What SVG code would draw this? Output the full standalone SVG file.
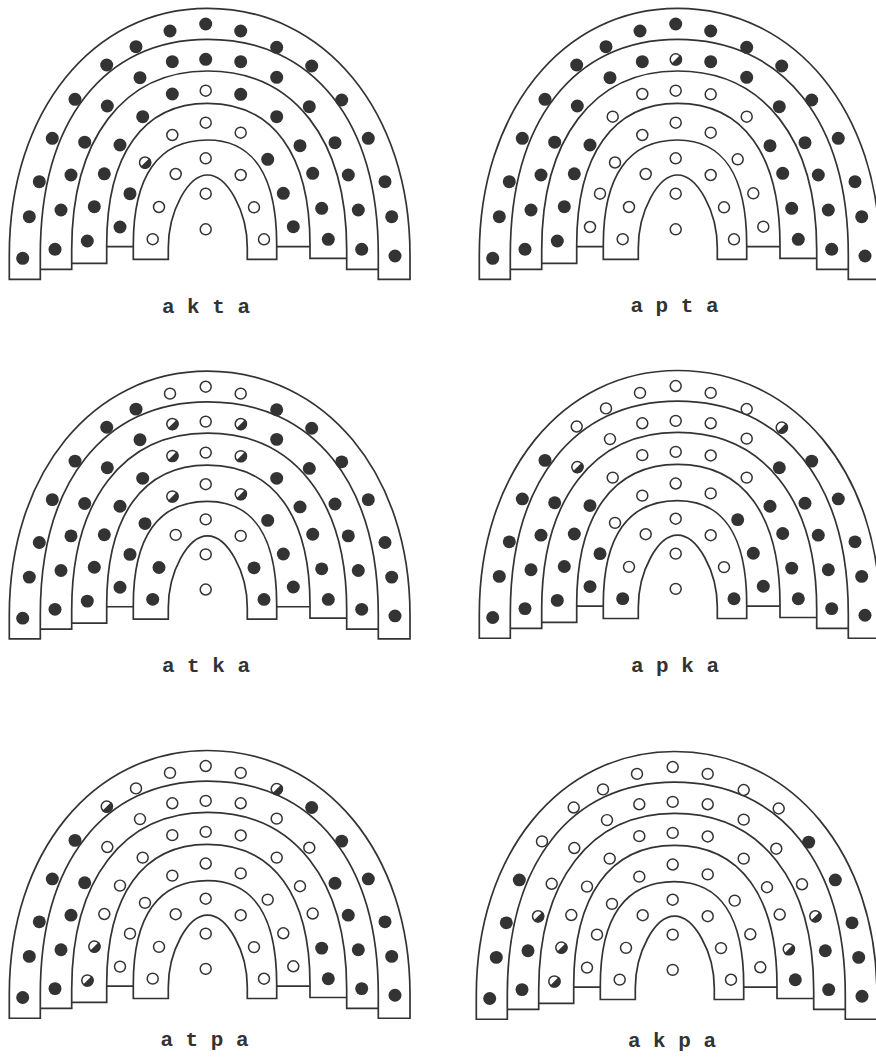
<svg xmlns="http://www.w3.org/2000/svg" width="876" height="1062" viewBox="0 0 876 1062">
<style>
.ln{fill:none;stroke:#333;stroke-width:1.7;stroke-linecap:square;stroke-linejoin:miter}
.lb{font-family:"Liberation Mono","DejaVu Sans Mono",monospace;font-weight:bold;font-size:21px;fill:#333;text-anchor:middle}
</style>
<defs>
<path id="frame" class="ln" d="M9.3,279.3 L9.3,255 C9.3,111.9 92.5,8.3 207.5,8.3 C325,8.3 410,111.9 410,255 L410,279.3 M40.3,279.3 L40.3,255 C40.3,121.3 103.8,39.3 207.5,39.3 C313.4,39.3 378.3,121.3 378.3,255 L378.3,279.3 M71.7,269.3 L71.7,250 C71.7,139 123.3,71 207.5,71 C293.8,71 346.7,139 346.7,250 L346.7,269.3 M106.7,263.3 L106.7,245 C106.7,154.3 143,103.3 207.5,103.3 C273.1,103.3 310,154.3 310,245 L310,258.3 M133.3,259.3 L133.3,245 C133.3,175.7 158.5,140 207.5,140 C253.2,140 276.7,175.7 276.7,245 L276.7,259.3 M168.3,259.3 L168.3,248 C168.3,211.5 187.9,175 207.5,175 C227.4,175 247.3,211.5 247.3,248 L247.3,259.3 M9.3,279.3 H40.3 M378.3,279.3 H410 M40.3,269.3 H71.7 M346.7,269.3 H378.3 M71.7,263.3 H106.7 M310,258.3 H346.7 M106.7,246.7 H133.3 M276.7,246.7 H310 M133.3,259.3 H168.3 M247.3,259.3 H276.7"/>
<circle id="f" r="6.5" fill="#333"/>
<circle id="o" r="5.5" fill="#fff" stroke="#333" stroke-width="1.5"/>
<g id="h"><circle r="5.5" fill="#fff" stroke="#333" stroke-width="1.5"/><path d="M4.6,-4.6 A6.5,6.5 0 0 1 -4.6,4.6 Z" fill="#333"/></g>
<g id="in"><use href="#o" x="205.7" y="193.7"/><use href="#o" x="205.7" y="229.3"/></g>
<g id="b5o"><use href="#o" x="152.7" y="239.2"/><use href="#o" x="159" y="207"/><use href="#o" x="175.7" y="174"/><use href="#o" x="205.7" y="158.3"/><use href="#o" x="240.7" y="175"/><use href="#o" x="254" y="207.3"/><use href="#o" x="264" y="239.3"/></g>
<g id="b4o"><use href="#o" x="120" y="227"/><use href="#o" x="130" y="193.7"/><use href="#o" x="145" y="162.5"/><use href="#o" x="172.3" y="135"/><use href="#o" x="205.7" y="122.7"/><use href="#o" x="240.7" y="132.7"/><use href="#o" x="267.7" y="159.3"/><use href="#o" x="283.3" y="193.3"/><use href="#o" x="293.3" y="226.7"/></g>
<g id="b1f"><use href="#f" x="22.7" y="258.3"/><use href="#f" x="29.3" y="216.7"/><use href="#f" x="39.3" y="181.7"/><use href="#f" x="52.3" y="138.3"/><use href="#f" x="75" y="99.3"/><use href="#f" x="106.7" y="65"/><use href="#f" x="136" y="46.7"/><use href="#f" x="170" y="31"/><use href="#f" x="205.7" y="24"/><use href="#f" x="240.7" y="31"/><use href="#f" x="276.7" y="47.3"/><use href="#f" x="311.7" y="66"/><use href="#f" x="341.7" y="100"/><use href="#f" x="368.3" y="138.3"/><use href="#f" x="385" y="181.7"/><use href="#f" x="391.7" y="216.7"/><use href="#f" x="395" y="256"/></g>
</defs>
<g id="connectors"/>

<g id="node-akta">
<g>
<use href="#frame"/>
<use href="#b1f"/>
<use href="#f" x="55" y="249.3"/><use href="#f" x="61" y="210"/><use href="#f" x="71" y="175"/><use href="#f" x="84.7" y="142.2"/><use href="#f" x="107.3" y="106"/><use href="#f" x="140" y="77.7"/><use href="#f" x="172.3" y="61.7"/><use href="#f" x="205.7" y="59.3"/><use href="#f" x="240.7" y="61.7"/><use href="#f" x="276.7" y="77.3"/><use href="#f" x="309.3" y="106.7"/><use href="#f" x="335" y="142.7"/><use href="#f" x="348.3" y="175"/><use href="#f" x="358.3" y="210"/><use href="#f" x="361.7" y="249.3"/>
<use href="#f" x="87.3" y="241"/><use href="#f" x="94.3" y="206.7"/><use href="#f" x="104.3" y="173.8"/><use href="#f" x="120" y="145"/><use href="#f" x="142.7" y="116.7"/><use href="#f" x="172.3" y="94"/><use href="#o" x="205.7" y="90.7"/><use href="#f" x="240.7" y="94.3"/><use href="#f" x="276.7" y="116.7"/><use href="#f" x="300" y="145.7"/><use href="#f" x="312.7" y="173.3"/><use href="#f" x="321.7" y="208.3"/><use href="#f" x="328.3" y="239.3"/>
<use href="#f" x="120" y="227"/><use href="#f" x="130" y="193.7"/><use href="#h" x="145" y="162.5"/><use href="#o" x="172.3" y="135"/><use href="#o" x="205.7" y="122.7"/><use href="#o" x="240.7" y="132.7"/><use href="#f" x="267.7" y="159.3"/><use href="#f" x="283.3" y="193.3"/><use href="#f" x="293.3" y="226.7"/>
<use href="#b5o"/>
<use href="#in"/>
</g>
<text class="lb" x="206" y="313">a k t a</text>
</g>

<g id="node-apta">
<g transform="translate(470,0)">
<use href="#frame"/>
<use href="#b1f"/>
<use href="#f" x="55" y="249.3"/><use href="#f" x="61" y="210"/><use href="#f" x="71" y="175"/><use href="#f" x="84.7" y="142.2"/><use href="#f" x="107.3" y="106"/><use href="#f" x="140" y="77.7"/><use href="#f" x="172.3" y="61.7"/><use href="#h" x="205.7" y="59.3"/><use href="#f" x="240.7" y="61.7"/><use href="#f" x="276.7" y="77.3"/><use href="#f" x="309.3" y="106.7"/><use href="#f" x="335" y="142.7"/><use href="#f" x="348.3" y="175"/><use href="#f" x="358.3" y="210"/><use href="#f" x="361.7" y="249.3"/>
<use href="#f" x="87.3" y="241"/><use href="#f" x="94.3" y="206.7"/><use href="#f" x="104.3" y="173.8"/><use href="#f" x="120" y="145"/><use href="#o" x="142.7" y="116.7"/><use href="#o" x="172.3" y="94"/><use href="#o" x="205.7" y="90.7"/><use href="#o" x="240.7" y="94.3"/><use href="#o" x="276.7" y="116.7"/><use href="#f" x="300" y="145.7"/><use href="#f" x="312.7" y="173.3"/><use href="#f" x="321.7" y="208.3"/><use href="#f" x="328.3" y="239.3"/>
<use href="#b4o"/>
<use href="#b5o"/>
<use href="#in"/>
</g>
<text class="lb" x="674.5" y="312">a p t a</text>
</g>

<g id="node-atka">
<g transform="translate(0,363) scale(1,0.988)">
<use href="#frame"/>
<use href="#f" x="22.7" y="258.3"/><use href="#f" x="29.3" y="216.7"/><use href="#f" x="39.3" y="181.7"/><use href="#f" x="52.3" y="138.3"/><use href="#f" x="75" y="99.3"/><use href="#f" x="106.7" y="65"/><use href="#f" x="136" y="46.7"/><use href="#o" x="170" y="31"/><use href="#o" x="205.7" y="24"/><use href="#o" x="240.7" y="31"/><use href="#f" x="276.7" y="47.3"/><use href="#f" x="311.7" y="66"/><use href="#f" x="341.7" y="100"/><use href="#f" x="368.3" y="138.3"/><use href="#f" x="385" y="181.7"/><use href="#f" x="391.7" y="216.7"/><use href="#f" x="395" y="256"/>
<use href="#f" x="55" y="249.3"/><use href="#f" x="61" y="210"/><use href="#f" x="71" y="175"/><use href="#f" x="84.7" y="142.2"/><use href="#f" x="107.3" y="106"/><use href="#f" x="140" y="77.7"/><use href="#h" x="172.3" y="61.7"/><use href="#o" x="205.7" y="59.3"/><use href="#h" x="240.7" y="61.7"/><use href="#f" x="276.7" y="77.3"/><use href="#f" x="309.3" y="106.7"/><use href="#f" x="335" y="142.7"/><use href="#f" x="348.3" y="175"/><use href="#f" x="358.3" y="210"/><use href="#f" x="361.7" y="249.3"/>
<use href="#f" x="87.3" y="241"/><use href="#f" x="94.3" y="206.7"/><use href="#f" x="104.3" y="173.8"/><use href="#f" x="120" y="145"/><use href="#f" x="142.7" y="116.7"/><use href="#h" x="172.3" y="94"/><use href="#o" x="205.7" y="90.7"/><use href="#h" x="240.7" y="94.3"/><use href="#f" x="276.7" y="116.7"/><use href="#f" x="300" y="145.7"/><use href="#f" x="312.7" y="173.3"/><use href="#f" x="321.7" y="208.3"/><use href="#f" x="328.3" y="239.3"/>
<use href="#f" x="120" y="227"/><use href="#f" x="130" y="193.7"/><use href="#f" x="145" y="162.5"/><use href="#h" x="172.3" y="135"/><use href="#o" x="205.7" y="122.7"/><use href="#h" x="240.7" y="132.7"/><use href="#f" x="267.7" y="159.3"/><use href="#f" x="283.3" y="193.3"/><use href="#f" x="293.3" y="226.7"/>
<use href="#f" x="152.7" y="239.2"/><use href="#f" x="159" y="207"/><use href="#o" x="175.7" y="174"/><use href="#o" x="205.7" y="158.3"/><use href="#o" x="240.7" y="175"/><use href="#f" x="254" y="207.3"/><use href="#f" x="264" y="239.3"/>
<use href="#in"/>
</g>
<text class="lb" x="206" y="672">a t k a</text>
</g>

<g id="node-apka">
<g transform="translate(470,362.3) scale(1,0.988)">
<use href="#frame"/>
<use href="#f" x="22.7" y="258.3"/><use href="#f" x="29.3" y="216.7"/><use href="#f" x="39.3" y="181.7"/><use href="#f" x="52.3" y="138.3"/><use href="#f" x="75" y="99.3"/><use href="#o" x="106.7" y="65"/><use href="#o" x="136" y="46.7"/><use href="#o" x="170" y="31"/><use href="#o" x="205.7" y="24"/><use href="#o" x="240.7" y="31"/><use href="#o" x="276.7" y="47.3"/><use href="#h" x="311.7" y="66"/><use href="#f" x="341.7" y="100"/><use href="#f" x="368.3" y="138.3"/><use href="#f" x="385" y="181.7"/><use href="#f" x="391.7" y="216.7"/><use href="#f" x="395" y="256"/>
<use href="#f" x="55" y="249.3"/><use href="#f" x="61" y="210"/><use href="#f" x="71" y="175"/><use href="#f" x="84.7" y="142.2"/><use href="#h" x="107.3" y="106"/><use href="#o" x="140" y="77.7"/><use href="#o" x="172.3" y="61.7"/><use href="#o" x="205.7" y="59.3"/><use href="#o" x="240.7" y="61.7"/><use href="#o" x="276.7" y="77.3"/><use href="#f" x="309.3" y="106.7"/><use href="#f" x="335" y="142.7"/><use href="#f" x="348.3" y="175"/><use href="#f" x="358.3" y="210"/><use href="#f" x="361.7" y="249.3"/>
<use href="#f" x="87.3" y="241"/><use href="#f" x="94.3" y="206.7"/><use href="#f" x="104.3" y="173.8"/><use href="#f" x="120" y="145"/><use href="#o" x="142.7" y="116.7"/><use href="#o" x="172.3" y="94"/><use href="#o" x="205.7" y="90.7"/><use href="#o" x="240.7" y="94.3"/><use href="#o" x="276.7" y="116.7"/><use href="#f" x="300" y="145.7"/><use href="#f" x="312.7" y="173.3"/><use href="#f" x="321.7" y="208.3"/><use href="#f" x="328.3" y="239.3"/>
<use href="#f" x="120" y="227"/><use href="#f" x="130" y="193.7"/><use href="#o" x="145" y="162.5"/><use href="#o" x="172.3" y="135"/><use href="#o" x="205.7" y="122.7"/><use href="#o" x="240.7" y="132.7"/><use href="#f" x="267.7" y="159.3"/><use href="#f" x="283.3" y="193.3"/><use href="#f" x="293.3" y="226.7"/>
<use href="#f" x="152.7" y="239.2"/><use href="#o" x="159" y="207"/><use href="#o" x="175.7" y="174"/><use href="#o" x="205.7" y="158.3"/><use href="#o" x="240.7" y="175"/><use href="#o" x="254" y="207.3"/><use href="#f" x="264" y="239.3"/>
<use href="#in"/>
</g>
<text class="lb" x="675" y="672">a p k a</text>
</g>

<g id="node-atpa">
<g transform="translate(0,742.3) scale(1,0.988)">
<use href="#frame"/>
<use href="#f" x="22.7" y="258.3"/><use href="#f" x="29.3" y="216.7"/><use href="#f" x="39.3" y="181.7"/><use href="#f" x="52.3" y="138.3"/><use href="#f" x="75" y="99.3"/><use href="#h" x="106.7" y="65"/><use href="#o" x="136" y="46.7"/><use href="#o" x="170" y="31"/><use href="#o" x="205.7" y="24"/><use href="#o" x="240.7" y="31"/><use href="#h" x="276.7" y="47.3"/><use href="#f" x="311.7" y="66"/><use href="#f" x="341.7" y="100"/><use href="#f" x="368.3" y="138.3"/><use href="#f" x="385" y="181.7"/><use href="#f" x="391.7" y="216.7"/><use href="#f" x="395" y="256"/>
<use href="#f" x="55" y="249.3"/><use href="#f" x="61" y="210"/><use href="#f" x="71" y="175"/><use href="#f" x="84.7" y="142.2"/><use href="#o" x="107.3" y="106"/><use href="#o" x="140" y="77.7"/><use href="#o" x="172.3" y="61.7"/><use href="#o" x="205.7" y="59.3"/><use href="#o" x="240.7" y="61.7"/><use href="#o" x="276.7" y="77.3"/><use href="#o" x="309.3" y="106.7"/><use href="#f" x="335" y="142.7"/><use href="#f" x="348.3" y="175"/><use href="#f" x="358.3" y="210"/><use href="#f" x="361.7" y="249.3"/>
<use href="#h" x="87.3" y="241"/><use href="#h" x="94.3" y="206.7"/><use href="#o" x="104.3" y="173.8"/><use href="#o" x="120" y="145"/><use href="#o" x="142.7" y="116.7"/><use href="#o" x="172.3" y="94"/><use href="#o" x="205.7" y="90.7"/><use href="#o" x="240.7" y="94.3"/><use href="#o" x="276.7" y="116.7"/><use href="#o" x="300" y="145.7"/><use href="#o" x="312.7" y="173.3"/><use href="#f" x="321.7" y="208.3"/><use href="#f" x="328.3" y="239.3"/>
<use href="#b4o"/>
<use href="#b5o"/>
<use href="#in"/>
</g>
<text class="lb" x="204.5" y="1046">a t p a</text>
</g>

<g id="node-akpa">
<g transform="translate(467,743.3) scale(1,0.988)">
<use href="#frame"/>
<use href="#f" x="22.7" y="258.3"/><use href="#f" x="29.3" y="216.7"/><use href="#f" x="39.3" y="181.7"/><use href="#f" x="52.3" y="138.3"/><use href="#o" x="75" y="99.3"/><use href="#o" x="106.7" y="65"/><use href="#o" x="136" y="46.7"/><use href="#o" x="170" y="31"/><use href="#o" x="205.7" y="24"/><use href="#o" x="240.7" y="31"/><use href="#o" x="276.7" y="47.3"/><use href="#o" x="311.7" y="66"/><use href="#f" x="341.7" y="100"/><use href="#f" x="368.3" y="138.3"/><use href="#f" x="385" y="181.7"/><use href="#f" x="391.7" y="216.7"/><use href="#f" x="395" y="256"/>
<use href="#f" x="55" y="249.3"/><use href="#f" x="61" y="210"/><use href="#h" x="71" y="175"/><use href="#o" x="84.7" y="142.2"/><use href="#o" x="107.3" y="106"/><use href="#o" x="140" y="77.7"/><use href="#o" x="172.3" y="61.7"/><use href="#o" x="205.7" y="59.3"/><use href="#o" x="240.7" y="61.7"/><use href="#o" x="276.7" y="77.3"/><use href="#o" x="309.3" y="106.7"/><use href="#o" x="335" y="142.7"/><use href="#h" x="348.3" y="175"/><use href="#f" x="358.3" y="210"/><use href="#f" x="361.7" y="249.3"/>
<use href="#h" x="87.3" y="241"/><use href="#h" x="94.3" y="206.7"/><use href="#o" x="104.3" y="173.8"/><use href="#o" x="120" y="145"/><use href="#o" x="142.7" y="116.7"/><use href="#o" x="172.3" y="94"/><use href="#o" x="205.7" y="90.7"/><use href="#o" x="240.7" y="94.3"/><use href="#o" x="276.7" y="116.7"/><use href="#o" x="300" y="145.7"/><use href="#o" x="312.7" y="173.3"/><use href="#h" x="321.7" y="208.3"/><use href="#f" x="328.3" y="239.3"/>
<use href="#b4o"/>
<use href="#b5o"/>
<use href="#in"/>
</g>
<text class="lb" x="672" y="1047">a k p a</text>
</g>
</svg>
